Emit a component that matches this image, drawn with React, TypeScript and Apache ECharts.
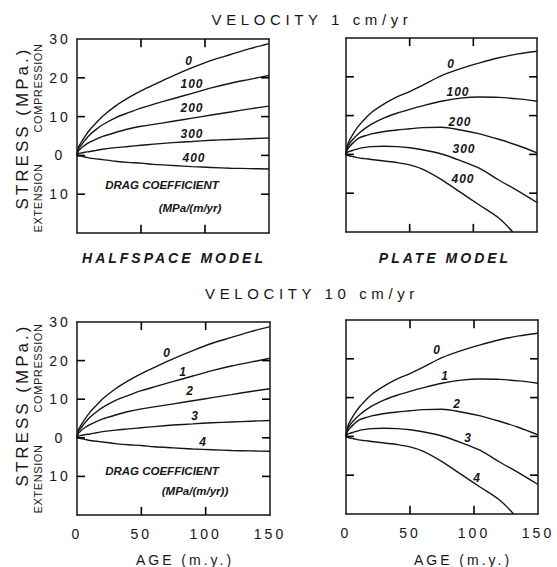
import React, { useEffect, useRef } from 'react';
import * as echarts from 'echarts';

// ---------- data ----------
const ages = [0, 1, 3, 6, 10, 15, 20, 30, 40, 50, 60, 75, 90, 105, 120, 135, 150];

const halfspace0 = [0, 2.0, 3.2, 4.8, 6.6, 8.4, 10.1, 12.7, 14.8, 16.6, 18.2, 20.5, 22.6, 24.5, 26.0, 27.5, 28.8];
const halfspace100 = [0, 1.6, 2.5, 3.8, 5.3, 6.7, 7.9, 9.7, 11.0, 12.2, 13.2, 14.6, 16.0, 17.4, 18.6, 19.6, 20.6];
const halfspace200 = [0, 1.1, 1.8, 2.6, 3.4, 4.2, 4.9, 5.9, 6.8, 7.5, 8.0, 8.8, 9.6, 10.4, 11.2, 12.0, 12.7];
const halfspace300 = [0, 0.4, 0.6, 0.8, 1.0, 1.3, 1.6, 2.0, 2.3, 2.6, 2.9, 3.3, 3.6, 3.9, 4.1, 4.3, 4.5];
const halfspace400 = [0, -0.1, -0.2, -0.4, -0.7, -0.9, -1.1, -1.5, -1.8, -2.0, -2.3, -2.6, -2.9, -3.1, -3.3, -3.4, -3.5];

const plate0 = [0, 2.2, 3.8, 5.5, 7.4, 9.2, 10.8, 13.0, 14.8, 16.2, 17.8, 20.3, 22.1, 23.6, 24.9, 25.9, 26.6];
const plate100 = [0, 1.8, 2.9, 4.1, 5.4, 6.7, 7.8, 9.4, 10.6, 11.6, 12.5, 13.7, 14.5, 14.8, 14.7, 14.3, 13.7];
const plate200 = [0, 1.2, 2.1, 3.1, 4.2, 4.8, 5.3, 5.9, 6.3, 6.6, 6.9, 7.0, 6.3, 5.3, 3.9, 2.3, 0.4];
const plate300 = [0, 0.5, 0.8, 1.1, 1.5, 1.8, 2.0, 2.1, 2.0, 1.7, 1.2, 0.1, -1.6, -3.6, -6.6, -9.4, -12.4];
const plate400Ages = [0, 1, 3, 6, 10, 15, 20, 30, 40, 50, 60, 75, 90, 105, 120, 131];
const plate400 = [0, -0.2, -0.4, -0.6, -0.9, -1.1, -1.3, -1.7, -2.1, -2.7, -3.8, -6.5, -9.8, -13.1, -16.4, -20];

const topCurveLabels = ['0', '100', '200', '300', '400'];
const bottomCurveLabels = ['0', '1', '2', '3', '4'];

const xTicks = { min: 0, max: 150, step: 50 };
const yTicks = { min: -20, max: 30, step: 10 };
const xInnerTicks = [50, 100];
const yInnerTicks = [-10, 0, 10, 20];

// ---------- styling ----------
const INK = '#161616';
const FONT = '"Liberation Sans", Arial, sans-serif';
// inward tick length expressed in axis units (~8 px)
const TICK_X = 6.2;
const TICK_Y = 2.1;

const halfCurves = [
  { ages, values: halfspace0 },
  { ages, values: halfspace100 },
  { ages, values: halfspace200 },
  { ages, values: halfspace300 },
  { ages, values: halfspace400 },
];
const plateCurves = [
  { ages, values: plate0 },
  { ages, values: plate100 },
  { ages, values: plate200 },
  { ages, values: plate300 },
  { ages: plate400Ages, values: plate400 },
];

const panels = [
  { grid: { left: 77, top: 39, width: 192, height: 194 }, curves: halfCurves, showX: false, showY: true },
  { grid: { left: 346, top: 38, width: 191, height: 194 }, curves: plateCurves, showX: false, showY: false },
  { grid: { left: 77, top: 322, width: 193, height: 193 }, curves: halfCurves, showX: true, showY: true },
  { grid: { left: 346, top: 320, width: 192, height: 194 }, curves: plateCurves, showX: true, showY: false },
];

// label positions (pixels) for curve annotations
const curveLabelPos = [
  [[189, 61], [192, 84], [192, 108], [192, 134], [194, 158]],
  [[451, 64], [458, 92], [460, 122], [464, 149], [463, 179]],
  [[167, 353], [183, 372], [190, 391], [195, 416], [203, 442]],
  [[437, 350], [445, 376], [457, 404], [468, 438], [477, 478]],
];

const css = `
.fig text[style*="14px"] { letter-spacing: 3px; }
.fig text[style*="15px"] { letter-spacing: 4.6px; }
.fig text[style*="17px"] { letter-spacing: 3px; }
.fig text[style*="11px"] { letter-spacing: 0.6px; }
.fig text[style*="12px"] { letter-spacing: 1px; }
`;

function txt(x: number, y: number, text: string, font: string, extra: any = {}) {
  return {
    type: 'text',
    x,
    y,
    silent: true,
    ...extra,
    style: { text, font, fill: INK, align: 'center', verticalAlign: 'middle' },
  };
}

function buildTexts() {
  const graphic: any[] = [];
  const curveFont = `italic bold 12px ${FONT}`;
  curveLabelPos.forEach((pos, i) => {
    const labels = i < 2 ? topCurveLabels : bottomCurveLabels;
    pos.forEach((pt, k) => graphic.push(txt(pt[0], pt[1], labels[k], curveFont)));
  });

  const dragFont = `italic bold 11.5px ${FONT}`;
  graphic.push(txt(162, 185, 'DRAG COEFFICIENT', dragFont));
  graphic.push(txt(190, 208, '(MPa/(m/yr)', dragFont));
  graphic.push(txt(162, 471, 'DRAG COEFFICIENT', dragFont));
  graphic.push(txt(195, 491, '(MPa/(m/yr))', dragFont));

  const titleFont = `15px ${FONT}`;
  graphic.push(txt(312, 19, 'VELOCITY 1 cm/yr', titleFont));
  graphic.push(txt(312, 293, 'VELOCITY 10 cm/yr', titleFont));

  const modelFont = `italic bold 14px ${FONT}`;
  graphic.push(txt(174, 258, 'HALFSPACE MODEL', modelFont));
  graphic.push(txt(445, 258, 'PLATE MODEL', modelFont));

  const ageFont = `14px ${FONT}`;
  graphic.push(txt(185, 560, 'AGE (m.y.)', ageFont));
  graphic.push(txt(463, 560, 'AGE (m.y.)', ageFont));

  const stressFont = `17px ${FONT}`;
  const smallFont = `11px ${FONT}`;
  const rot = { rotation: Math.PI / 2 };
  graphic.push(txt(22, 128, 'STRESS (MPa.)', stressFont, rot));
  graphic.push(txt(22, 405, 'STRESS (MPa.)', stressFont, rot));
  graphic.push(txt(38, 88, 'COMPRESSION', smallFont, rot));
  graphic.push(txt(38, 198, 'EXTENSION', smallFont, rot));
  graphic.push(txt(38, 368, 'COMPRESSION', smallFont, rot));
  graphic.push(txt(38, 479, 'EXTENSION', smallFont, rot));
  return graphic;
}

function tickSeries(i: number, a: number[], b: number[]) {
  return {
    type: 'line',
    xAxisIndex: 2 * i,
    yAxisIndex: 2 * i,
    data: [a, b],
    symbol: 'none',
    silent: true,
    clip: false,
    z: 5,
    lineStyle: { color: '#000000', width: 1.6 },
  };
}

function buildOption() {
  const xAxis: any[] = [];
  const yAxis: any[] = [];
  const series: any[] = [];

  panels.forEach((p, i) => {
    const xb = () => ({
      type: 'value', gridIndex: i, min: xTicks.min, max: xTicks.max, interval: xTicks.step,
      axisLine: { show: true, onZero: false, lineStyle: { color: INK, width: 1.5 } },
      splitLine: { show: false },
      axisTick: { show: false },
    });
    xAxis.push({
      ...xb(), position: 'bottom',
      axisLabel: { show: p.showX, margin: 12, color: INK, fontSize: 14, fontFamily: FONT },
    });
    xAxis.push({ ...xb(), position: 'top', axisLabel: { show: false } });
    const yb = () => ({
      type: 'value', gridIndex: i, min: yTicks.min, max: yTicks.max, interval: yTicks.step,
      axisLine: { show: true, onZero: false, lineStyle: { color: INK, width: 1.5 } },
      splitLine: { show: false },
      axisTick: { show: false },
    });
    yAxis.push({
      ...yb(), position: 'left',
      axisLabel: {
        show: p.showY, margin: 17, align: 'center', color: INK, fontSize: 14, fontFamily: FONT,
        formatter: (v: number) => (v === yTicks.min ? '' : String(Math.abs(v))),
      },
    });
    yAxis.push({ ...yb(), position: 'right', axisLabel: { show: false } });

    p.curves.forEach((c) => {
      series.push({
        type: 'line',
        xAxisIndex: 2 * i,
        yAxisIndex: 2 * i,
        data: c.ages.map((a, k) => [a, c.values[k]]),
        smooth: 0.3,
        symbol: 'none',
        lineStyle: { color: INK, width: 1.4 },
      });
    });

    // inward tick marks on all four sides, placed through the axes' scales
    xInnerTicks.forEach((x) => {
      series.push(tickSeries(i, [x, yTicks.min], [x, yTicks.min + TICK_Y]));
      series.push(tickSeries(i, [x, yTicks.max], [x, yTicks.max - TICK_Y]));
    });
    yInnerTicks.forEach((y) => {
      series.push(tickSeries(i, [xTicks.min, y], [xTicks.min + TICK_X, y]));
      series.push(tickSeries(i, [xTicks.max, y], [xTicks.max - TICK_X, y]));
    });
  });

  return {
    animation: false,
    backgroundColor: '#ffffff',
    grid: panels.map((p) => ({ ...p.grid })),
    xAxis,
    yAxis,
    series,
    graphic: buildTexts(),
  };
}

export default function App() {
  const ref = useRef<HTMLDivElement>(null);
  useEffect(() => {
    if (!ref.current) return;
    const chart = echarts.init(ref.current, null, { renderer: 'svg' });
    chart.setOption(buildOption() as any);
    return () => chart.dispose();
  }, []);
  return (
    <div>
      <style>{css}</style>
      <div
        ref={ref}
        className="fig"
        style={{ position: 'fixed', left: 0, top: 0, width: 557, height: 567, background: '#fff' }}
      />
    </div>
  );
}
